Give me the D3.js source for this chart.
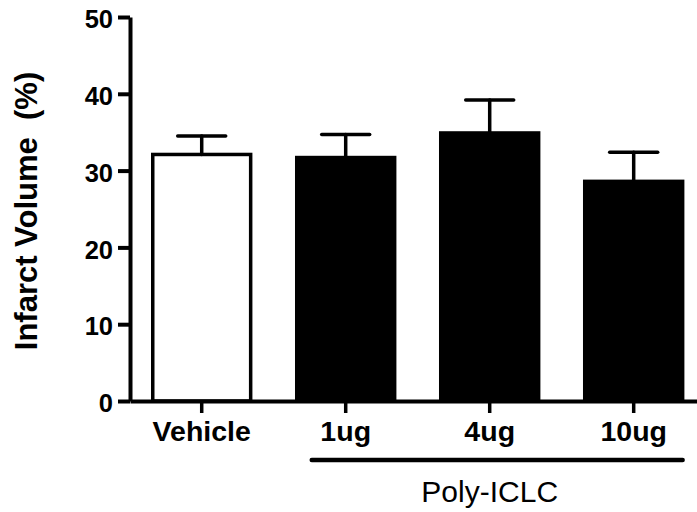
<!DOCTYPE html>
<html>
<head>
<meta charset="utf-8">
<script src="https://cdn.jsdelivr.net/npm/d3@7/dist/d3.min.js"></script>
<style>
  html, body { margin: 0; padding: 0; background: #fff; }
  svg { display: block; }
  text { font-family: "Liberation Sans", Arial, Helvetica, sans-serif; fill: #000; }
</style>
</head>
<body>
<svg id="chart" width="697" height="512"></svg>
<script>
// Infarct volume by treatment group (mean ± SEM)
const groups = ["Vehicle", "1ug", "4ug", "10ug"];
const means  = [32.1, 31.7, 34.9, 28.6];
const sems   = [2.4, 3.0, 4.3, 3.8];
const fills  = ["#ffffff", "#000000", "#000000", "#000000"];
const yTicks = [0, 10, 20, 30, 40, 50];
const yTitle = "Infarct Volume  (%)";
const groupLabel = "Poly-ICLC";
const groupedMembers = ["1ug", "4ug", "10ug"];

const svg = d3.select("#chart");

const y = d3.scaleLinear().domain([0, 50]).range([401, 17]);
const x = d3.scaleBand()
  .domain(groups)
  .range([130, 705.4])
  .paddingInner(0.32)
  .paddingOuter(0.158);

const bw = x.bandwidth();

// Bars
const bars = svg.append("g");
groups.forEach((g, i) => {
  bars.append("rect")
    .attr("x", x(g))
    .attr("y", y(means[i]))
    .attr("width", bw)
    .attr("height", y(0) - y(means[i]))
    .attr("fill", fills[i])
    .attr("stroke", "#000")
    .attr("stroke-width", 3.5);
});

// Error bars (upper whisker only)
const err = svg.append("g")
  .attr("stroke", "#000")
  .attr("stroke-width", 3.5)
  .attr("stroke-linecap", "round");
groups.forEach((g, i) => {
  const cx = x(g) + bw / 2;
  err.append("line")
    .attr("x1", cx).attr("x2", cx)
    .attr("y1", y(means[i])).attr("y2", y(means[i] + sems[i]));
  err.append("line")
    .attr("x1", cx - 24).attr("x2", cx + 24)
    .attr("y1", y(means[i] + sems[i])).attr("y2", y(means[i] + sems[i]));
});

// Y axis
const yAxis = svg.append("g")
  .attr("transform", "translate(130,0)")
  .call(d3.axisLeft(y).tickValues(yTicks).tickFormat(d3.format("d"))
    .tickSize(12).tickSizeOuter(0).tickPadding(5));
yAxis.select(".domain").attr("stroke-width", 4);
yAxis.selectAll(".tick line").attr("stroke-width", 4);
yAxis.selectAll(".tick text")
  .attr("font-size", 25.5).attr("font-weight", "bold")
  .attr("font-family", "Liberation Sans, Arial, sans-serif")
  .attr("dy", "0.42em");

// X axis
const xAxis = svg.append("g")
  .attr("transform", `translate(0,${y(0)})`)
  .call(d3.axisBottom(x).tickSize(12).tickSizeOuter(0).tickPadding(8));
xAxis.select(".domain").attr("stroke-width", 4);
xAxis.selectAll(".tick line").attr("stroke-width", 3.5);
xAxis.selectAll(".tick text")
  .attr("font-size", 28.5).attr("font-weight", "bold")
  .attr("font-family", "Liberation Sans, Arial, sans-serif");

// Y axis title
svg.append("text")
  .attr("transform", "translate(37,211) rotate(-90)")
  .attr("text-anchor", "middle")
  .attr("font-size", 31)
  .attr("font-weight", "bold")
  .style("white-space", "pre")
  .text(yTitle);

// Grouping bracket for Poly-ICLC doses
const first = groupedMembers[0], last = groupedMembers[groupedMembers.length - 1];
svg.append("line")
  .attr("x1", x(first) + 15)
  .attr("x2", x(last) + bw)
  .attr("y1", 460).attr("y2", 460)
  .attr("stroke", "#000")
  .attr("stroke-width", 4.5)
  .attr("stroke-linecap", "round");

svg.append("text")
  .attr("x", x(groupedMembers[1]) + bw / 2)
  .attr("y", 502)
  .attr("text-anchor", "middle")
  .attr("font-size", 30)
  .text(groupLabel);
</script>
</body>
</html>
